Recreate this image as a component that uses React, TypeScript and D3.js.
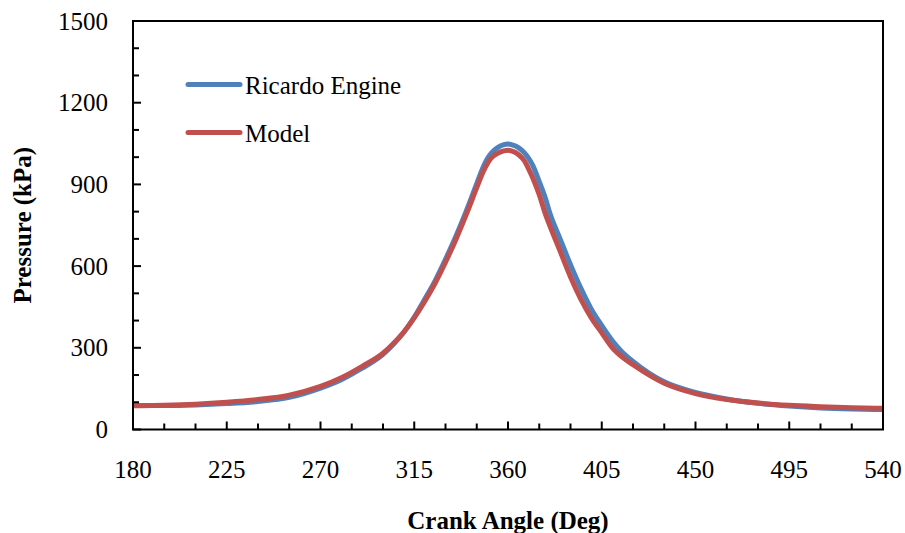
import React from "react";
import * as d3 from "d3";

// Crank angle (deg) at which pressure was sampled
const angles = [
  180, 195, 210, 225, 240, 255, 270, 280, 290, 300, 305, 310, 315, 320, 325, 330, 335,
  340, 345, 348, 350, 352, 355, 358, 360, 362, 365, 368, 370, 372, 375, 378, 380, 385,
  390, 395, 400, 405, 410, 415, 420, 435, 450, 465, 480, 495, 510, 525, 540,
];

// Measured cylinder pressure, Ricardo engine (kPa)
const ricardoPressure = [
  88, 88, 90, 95, 103, 118, 152, 183, 225, 276, 313, 357, 413, 478, 546, 625, 710,
  803, 903, 962, 993, 1015, 1035, 1046, 1048, 1045, 1035, 1015, 995, 968, 910, 848, 797, 700,
  605, 518, 442, 382, 327, 283, 250, 175, 136, 112, 96, 86, 79, 75, 73,
];

// Simulated cylinder pressure (kPa)
const modelPressure = [
  87, 89, 93, 100, 110, 126, 158, 190, 232, 280, 316, 358, 410, 470, 537, 614, 698,
  790, 888, 945, 975, 997, 1014, 1023, 1025, 1022, 1010, 985, 955, 922, 862, 790, 750, 655,
  560, 478, 410, 355, 301, 265, 238, 170, 132, 110, 97, 89, 84, 80, 78,
];

const xTicks = [180, 225, 270, 315, 360, 405, 450, 495, 540];
const yTicks = [0, 300, 600, 900, 1200, 1500];

const seriesNames = ["Ricardo Engine", "Model"];
const seriesColors = ["#4F81BD", "#C0504D"];

const W = 905;
const H = 533;
const plot = { left: 133, right: 883, top: 21, bottom: 429.5 };
const FONT = '"Liberation Serif"';

const x = d3.scaleLinear().domain([180, 540]).range([plot.left, plot.right]);
const y = d3.scaleLinear().domain([0, 1500]).range([plot.bottom, plot.top]);

const line = d3
  .line<[number, number]>()
  .x((d) => x(d[0]))
  .y((d) => y(d[1]))
  .curve(d3.curveMonotoneX);

const xMinor = d3.range(180, 541, 15);
const yMinor = d3.range(0, 1501, 100);
const legendY = [84.5, 132.5];

const textStyle: React.CSSProperties = { fontFamily: FONT, fontSize: 25 };

export default function App() {
  const series = [ricardoPressure, modelPressure];
  return (
    <svg
      width={W}
      height={H}
      style={{ position: "absolute", left: 0, top: 0, display: "block", background: "#fff" }}
    >
      {series.map((vals, i) => (
        <path
          key={seriesNames[i]}
          d={line(angles.map((a, k) => [a, vals[k]] as [number, number])) ?? ""}
          fill="none"
          stroke={seriesColors[i]}
          strokeWidth={5}
          strokeLinejoin="round"
        />
      ))}

      <rect
        x={plot.left}
        y={plot.top}
        width={plot.right - plot.left}
        height={plot.bottom - plot.top}
        fill="none"
        stroke="#000"
        strokeWidth={2}
      />

      {xMinor.map((d) => (
        <line
          key={`xt${d}`}
          x1={x(d)}
          x2={x(d)}
          y1={plot.bottom}
          y2={plot.bottom - ((d - 180) % 45 === 0 ? 8 : 6)}
          stroke="#000"
          strokeWidth={2}
        />
      ))}
      {yMinor.map((d) => (
        <line
          key={`yt${d}`}
          x1={plot.left}
          x2={plot.left + (d % 300 === 0 ? 8 : 6)}
          y1={y(d)}
          y2={y(d)}
          stroke="#000"
          strokeWidth={2}
        />
      ))}

      {xTicks.map((d) => (
        <text key={`xl${d}`} x={x(d)} y={478} textAnchor="middle" style={textStyle}>
          {d}
        </text>
      ))}
      {yTicks.map((d) => (
        <text key={`yl${d}`} x={108} y={y(d) + 8.5} textAnchor="end" style={textStyle}>
          {d}
        </text>
      ))}

      <text
        x={(plot.left + plot.right) / 2}
        y={529}
        textAnchor="middle"
        style={{ ...textStyle, fontWeight: "bold" }}
      >
        Crank Angle (Deg)
      </text>
      <text
        transform={`translate(31,${(plot.top + plot.bottom) / 2}) rotate(-90)`}
        textAnchor="middle"
        style={{ ...textStyle, fontWeight: "bold" }}
      >
        Pressure (kPa)
      </text>

      {seriesNames.map((name, i) => (
        <g key={`lg${name}`}>
          <line
            x1={188}
            x2={240}
            y1={legendY[i]}
            y2={legendY[i]}
            stroke={seriesColors[i]}
            strokeWidth={5}
            strokeLinecap="round"
          />
          <text x={245} y={legendY[i] + 9} style={textStyle}>
            {name}
          </text>
        </g>
      ))}
    </svg>
  );
}
